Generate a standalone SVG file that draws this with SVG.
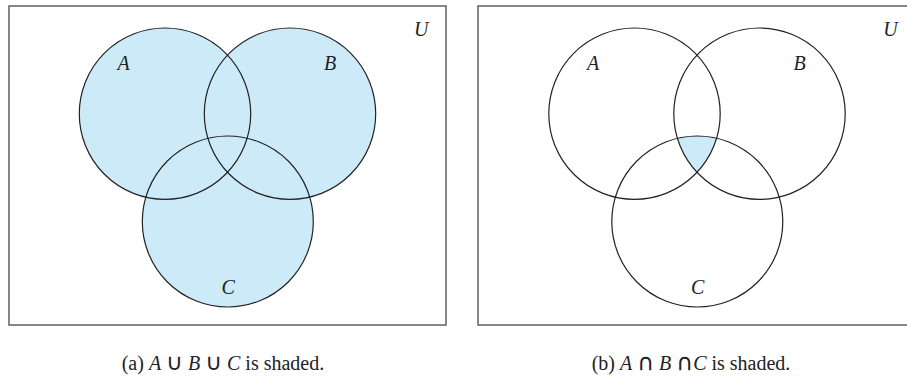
<svg xmlns="http://www.w3.org/2000/svg" width="907" height="378" viewBox="0 0 907 378">
<style>
.frame{fill:#fff;stroke:#555;stroke-width:1.4}
.ring{fill:none;stroke:#222;stroke-width:1.2}
.shade{fill:#cdeaf9;stroke:none}
.lbl{font-family:"Liberation Serif",serif;font-style:italic;font-size:20px;fill:#222}
.cap{font-family:"Liberation Serif",serif;font-size:20px;fill:#222}
.it{font-style:italic}
.op{font-family:"DejaVu Sans",sans-serif;font-size:23px}
</style>
<defs>
<clipPath id="clipA2"><circle cx="634.5" cy="113.7" r="85.7"/></clipPath>
<clipPath id="clipB2"><circle cx="759.5" cy="113.7" r="85.7"/></clipPath>
</defs>
<g id="panel-a">
<rect class="frame" x="9" y="6" width="437" height="319"/>
<g id="shade-a">
<circle class="shade" cx="165" cy="113.7" r="85.7"/>
<circle class="shade" cx="290" cy="113.7" r="85.7"/>
<circle class="shade" cx="227.8" cy="221.5" r="85.5"/>
</g>
<g id="a-setA"><circle class="ring" cx="165" cy="113.7" r="85.7"/><text class="lbl" x="117.5" y="70">A</text></g>
<g id="a-setB"><circle class="ring" cx="290" cy="113.7" r="85.7"/><text class="lbl" x="324" y="70">B</text></g>
<g id="a-setC"><circle class="ring" cx="227.8" cy="221.5" r="85.5"/><text class="lbl" x="221.5" y="294">C</text></g>
<text class="lbl" x="414" y="36">U</text>
<text class="cap" x="121.7" y="370">(a) <tspan class="it">A</tspan> <tspan class="op">∪</tspan> <tspan class="it">B</tspan> <tspan class="op">∪</tspan> <tspan class="it">C</tspan> is shaded.</text>
</g>
<g id="panel-b">
<rect class="frame" x="478" y="6" width="432" height="319"/>
<g clip-path="url(#clipA2)"><g clip-path="url(#clipB2)"><circle class="shade" cx="697.3" cy="221.5" r="85.5"/></g></g>
<g id="b-setA"><circle class="ring" cx="634.5" cy="113.7" r="85.7"/><text class="lbl" x="587" y="70">A</text></g>
<g id="b-setB"><circle class="ring" cx="759.5" cy="113.7" r="85.7"/><text class="lbl" x="793.5" y="70">B</text></g>
<g id="b-setC"><circle class="ring" cx="697.3" cy="221.5" r="85.5"/><text class="lbl" x="691" y="294">C</text></g>
<text class="lbl" x="883.3" y="36">U</text>
<text class="cap" x="591.7" y="370">(b) <tspan class="it">A</tspan>  <tspan class="op">∩</tspan> <tspan class="it">B</tspan>  <tspan class="op">∩</tspan><tspan class="it">C</tspan> is shaded.</text>
</g>
</svg>
